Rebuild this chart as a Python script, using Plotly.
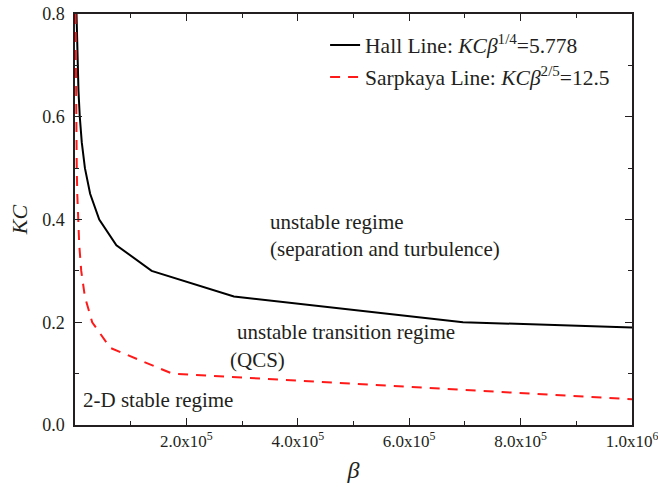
import plotly.graph_objects as go

# Hall line vertices (beta, KC)
hall_beta = [2721, 3523, 4642, 6243, 8600, 12180, 17830, 27180, 43540, 74300, 137600, 285300, 696600, 1000000]
hall_kc = [0.80, 0.75, 0.70, 0.65, 0.60, 0.55, 0.50, 0.45, 0.40, 0.35, 0.30, 0.25, 0.20, 0.19]

# Sarpkaya line vertices (beta, KC)
sarp_beta = [965, 1134, 1348, 1622, 1981, 2462, 3125, 4067, 5459, 7622, 11208, 17678, 30880, 63390, 174700, 1000000]
sarp_kc = [0.80, 0.75, 0.70, 0.65, 0.60, 0.55, 0.50, 0.45, 0.40, 0.35, 0.30, 0.25, 0.20, 0.15, 0.10, 0.05]

x_tickvals = [2e5, 4e5, 6e5, 8e5, 1e6]
x_ticktext = ["2.0x10<sup>5</sup>", "4.0x10<sup>5</sup>", "6.0x10<sup>5</sup>",
              "8.0x10<sup>5</sup>", "1.0x10<sup>6</sup>"]
y_tickvals = [0.0, 0.2, 0.4, 0.6, 0.8]
y_ticktext = ["0.0", "0.2", "0.4", "0.6", "0.8"]

INK = "#231f20"
FONT = "Liberation Serif"

fig = go.Figure()
fig.add_trace(go.Scatter(
    x=hall_beta, y=hall_kc, mode="lines",
    line=dict(color="black", width=2),
    name="Hall Line: <i>KCβ</i><sup>1/4</sup>=5.778", legend="legend"))
fig.add_trace(go.Scatter(
    x=sarp_beta, y=sarp_kc, mode="lines",
    line=dict(color="#ff1a1a", width=2, dash="10px,8px"),
    name="Sarpkaya Line: <i>KCβ</i><sup>2/5</sup>=12.5", legend="legend2"))

annos = [
    ("unstable regime", 346500, 0.396),
    ("(separation and turbulence)", 346500, 0.342),
    ("unstable transition regime", 287000, 0.181),
    ("(QCS)", 275000, 0.127),
    ("2-D stable regime", 11000, 0.049),
]
for t, x, y in annos:
    fig.add_annotation(x=x, y=y, text=t, showarrow=False, xanchor="left",
                       yanchor="middle", font=dict(family=FONT, size=21, color=INK))

axis_common = dict(
    showline=True, linecolor=INK, linewidth=1.5, mirror="ticks",
    ticks="inside", ticklen=7, tickwidth=1.3, tickcolor=INK,
    showgrid=False, zeroline=False, automargin=False,
)

fig.update_xaxes(
    range=[0, 1e6], tickvals=x_tickvals, ticktext=x_ticktext,
    ticklabeloverflow="allow",
    tickfont=dict(family=FONT, size=17, color=INK),
    minor=dict(ticks="inside", ticklen=4, tickwidth=1.3, tickcolor=INK, dtick=1e5, tick0=0, showgrid=False),
    title=dict(text="<i>β</i>", font=dict(family=FONT, size=24, color=INK), standoff=11),
    **axis_common)
fig.update_yaxes(
    range=[0, 0.8], tickvals=y_tickvals, ticktext=y_ticktext,
    tickfont=dict(family=FONT, size=18, color=INK), ticklabelstandoff=5,
    minor=dict(ticks="inside", ticklen=4, tickwidth=1.3, tickcolor=INK, dtick=0.1, tick0=0, showgrid=False),
    title=dict(text="<i>KC</i>", font=dict(family=FONT, size=22, color=INK), standoff=8),
    **axis_common)

leg_common = dict(xanchor="left", yanchor="middle", bgcolor="rgba(0,0,0,0)", borderwidth=0,
                  font=dict(family=FONT, size=21.5, color=INK))
fig.update_layout(
    width=658, height=497,
    margin=dict(l=75, r=26, t=14, b=72),
    paper_bgcolor="white", plot_bgcolor="white",
    font=dict(family=FONT, color=INK),
    showlegend=True,
    legend=dict(x=0.449, y=0.9246, **leg_common),
    legend2=dict(x=0.449, y=0.8467, **leg_common),
)

fig.write_html("out.html")
